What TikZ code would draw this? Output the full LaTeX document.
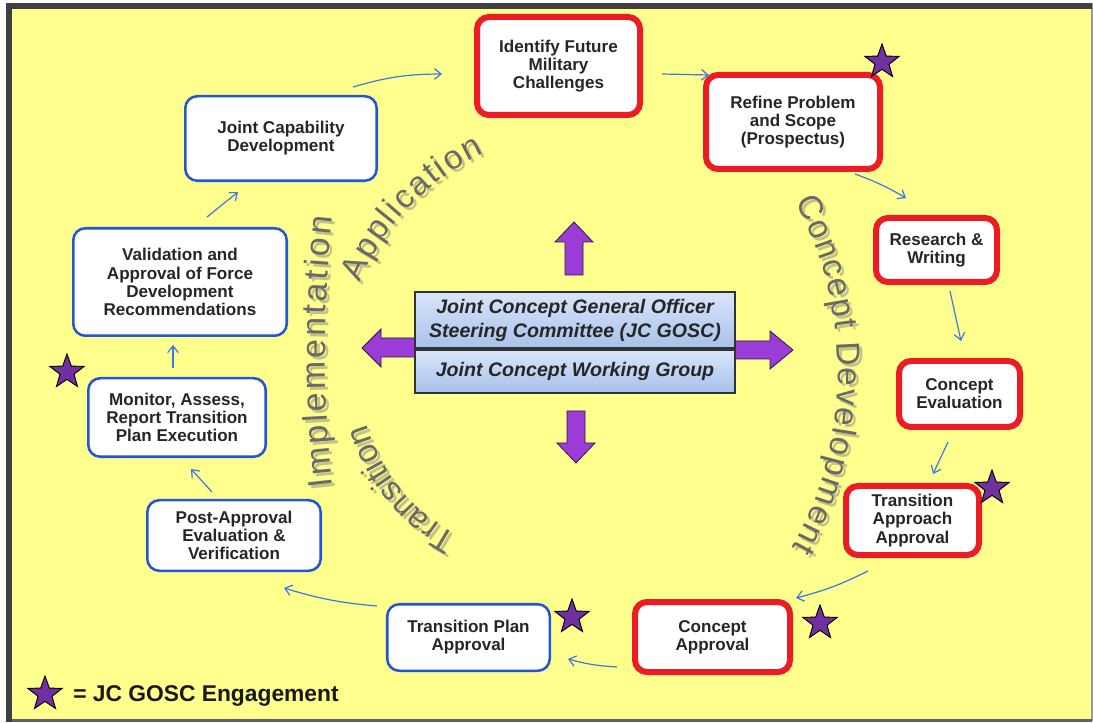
\documentclass[tikz,border=0pt]{standalone}
\usepackage{fontspec}
\setmainfont{Liberation Sans}
\usetikzlibrary{arrows.meta,shapes.geometric,calc,decorations.text}

\definecolor{panel}{RGB}{255,255,142}
\definecolor{framegray}{RGB}{64,64,64}
\definecolor{redline}{RGB}{236,28,36}
\definecolor{blueline}{RGB}{35,85,215}
\definecolor{flowblue}{RGB}{60,120,225}
\definecolor{violet}{RGB}{155,60,215}
\definecolor{arrowedge}{RGB}{45,25,70}
\definecolor{starfill}{RGB}{112,48,160}
\definecolor{boxtop}{RGB}{216,230,250}
\definecolor{boxbot}{RGB}{168,192,234}
\definecolor{arcgray}{RGB}{105,105,105}
\definecolor{arcshadow}{RGB}{196,196,130}

\tikzset{
  stepbox/.style={fill=white, rounded corners=9pt, align=center, inner sep=0pt,
    font=\bfseries\fontsize{12.8}{13.6}\selectfont, text=black!85},
  redbox/.style={stepbox, draw=redline, line width=4.5pt},
  bluebox/.style={stepbox, draw=blueline, line width=1.9pt},
  flow/.style={draw=flowblue, line width=0.9pt, -{Straight Barb[length=5pt,width=8pt]}},
  engstar/.style={star, star points=5, star point ratio=2.45, fill=starfill,
    draw=black, line width=0.7pt, minimum size=27pt, inner sep=0pt},
  blockarrow/.style={fill=violet, draw=arrowedge, line width=0.6pt, line join=miter},
  council/.style={draw=black!80, line width=1.2pt, top color=boxtop, bottom color=boxbot,
    minimum width=240pt, align=center, inner sep=0pt,
    font=\bfseries\itshape\fontsize{14.7}{18}\selectfont, text=black!85},
}

\begin{document}
\begin{tikzpicture}[x=0.75pt,y=0.75pt]
\useasboundingbox (0,0) rectangle (1093,-723);
\fill[white] (0,0) rectangle (1093,-723);

% yellow panel and its frame
\fill[panel] (9,-6) rectangle (1091,-720);
\draw[draw=black!40, line width=1.5pt] (1091.5,-3) -- (1091.5,-721);
\draw[draw=black!62, line width=2.25pt] (6,-720.5) -- (1092,-720.5);
\draw[draw=framegray, line width=4.5pt] (6,-6) -- (1092,-6);
\draw[draw=framegray, line width=4.5pt] (9,-3) -- (9,-722);

% phase labels along the cycle (soft shadow first, then the text)
\foreach \d/\col in {3/arcshadow, 0/arcgray}{
  \path[decorate, decoration={text along path, text align=fit to path, text color=\col,
      text={|\fontsize{25}{25}\selectfont|Concept Development}}]
    (475+\d,-372-\d) ++(28:363) arc[start angle=28, end angle=-29, radius=363];
  \path[decorate, decoration={text along path, text align=fit to path, text color=\col,
      text={|\fontsize{25}{25}\selectfont|Application}}]
    (590+\d,-380-\d) ++(157:250) arc[start angle=157, end angle=115, radius=250];
  \path[decorate, decoration={text along path, text align=fit to path, text color=\col,
      text={|\fontsize{25.5}{25.5}\selectfont|Implementation}}]
    (1525+\d,-352-\d) ++(186.46:1200) arc[start angle=186.46, end angle=173.54, radius=1200];
  \path[decorate, decoration={text along path, text align=fit to path, text color=\col,
      text={|\fontsize{25}{25}\selectfont|Transition}}]
    (542+\d,-374-\d) ++(242.4:182) arc[start angle=242.4, end angle=196, radius=182];
}

% purple arrows leaving the council boxes
\path[blockarrow] (565,-275) -- (565,-242) -- (555,-242) -- (574,-222) -- (593,-242) -- (583,-242) -- (583,-275) -- cycle;
\path[blockarrow] (567,-411) -- (567,-443) -- (557,-443) -- (576,-463) -- (595,-443) -- (585,-443) -- (585,-411) -- cycle;
\path[blockarrow] (418,-338) -- (381,-338) -- (381,-329) -- (362,-348) -- (381,-367) -- (381,-357) -- (418,-357) -- cycle;
\path[blockarrow] (732,-341) -- (770,-341) -- (770,-331) -- (793,-350) -- (770,-369) -- (770,-359) -- (732,-359) -- cycle;

% council boxes
\node[council, minimum height=42pt] (gosc) at (575,-320)
  {Joint Concept General Officer\\Steering Committee (JC GOSC)};
\node[council, minimum height=32.25pt] (jcwg) at (575,-371.5)
  {Joint Concept Working Group};

% concept development steps
\node[redbox, minimum width=122.25pt, minimum height=73.5pt] (ifm) at (558.5,-66)
  {Identify Future\\Military\\Challenges};
\node[redbox, minimum width=130.5pt, minimum height=70.5pt] (rps) at (793,-122)
  {Refine Problem\\and Scope\\(Prospectus)};
\node[redbox, minimum width=90.75pt, minimum height=48pt] (raw) at (936.5,-250)
  {Research \&\\Writing};
\node[redbox, minimum width=90.75pt, minimum height=49.5pt] (cev) at (959.5,-394)
  {Concept\\Evaluation};
\node[redbox, minimum width=99.75pt, minimum height=51.75pt] (taa) at (912.5,-520.5)
  {Transition\\Approach\\Approval};
\node[redbox, minimum width=116.25pt, minimum height=52.5pt] (cap) at (712.5,-637)
  {Concept\\Approval};

% transition, implementation and application steps
\node[bluebox, minimum width=121.9pt, minimum height=49.9pt] (tpa) at (468.5,-637.5)
  {Transition Plan\\Approval};
\node[bluebox, minimum width=130.1pt, minimum height=52.9pt] (pae) at (234,-535.5)
  {Post-Approval\\Evaluation \&\\Verification};
\node[bluebox, minimum width=133.1pt, minimum height=58.9pt] (mar) at (177,-417.5)
  {Monitor, Assess,\\Report Transition\\Plan Execution};
\node[bluebox, minimum width=160.1pt, minimum height=80.6pt] (vaf) at (180,-282)
  {Validation and\\Approval of Force\\Development\\Recommendations};
\node[bluebox, minimum width=143.6pt, minimum height=63.4pt] (jcd) at (281,-138.5)
  {Joint Capability\\Development};

% flow around the cycle
\draw[flow] ($(jcd)+(72,51.5)$) to[bend left=8] ($(ifm)+(-116.5,-8)$);
\draw[flow] ($(ifm)+(103.5,-8)$) to ($(rps)+(-84,47)$);
\draw[flow] ($(rps)+(62,-52)$) to[bend left=5] ($(raw)+(-30.5,52)$);
\draw[flow] ($(raw)+(13.5,-41)$) to ($(cev)+(1.5,53)$);
\draw[flow] ($(cev)+(-11.5,-48)$) to ($(taa)+(20.5,46.5)$);
\draw[flow] ($(taa)+(-44.5,-50.5)$) to[bend left=6] ($(cap)+(83.5,39)$);
\draw[flow] ($(cap)+(-95.5,-30)$) to[bend left=6] ($(tpa)+(99.5,-21.5)$);
\draw[flow] ($(tpa)+(-91.5,31.5)$) to[bend left=6] ($(pae)+(50,-52.5)$);
\draw[flow] ($(pae)+(-22,43.5)$) to ($(mar)+(14,-51.5)$);
\draw[flow] ($(mar)+(-4,49.5)$) to ($(vaf)+(-7,-63)$);
\draw[flow] ($(vaf)+(27,65)$) to ($(jcd)+(-43,-53.5)$);

% JC GOSC engagement marks
\node[engstar] (s1) at (882,-62) {};
\node[engstar] (s2) at (992,-488) {};
\node[engstar] (s3) at (820,-623) {};
\node[engstar] (s4) at (572,-617) {};
\node[engstar] (s5) at (67,-372) {};

% legend
\node[engstar] (key) at (45,-694) {};
\node[anchor=west, inner sep=0pt, font=\bfseries\fontsize{17.1}{20}\selectfont, text=black!90]
  (keytext) at (73,-696) {= JC GOSC Engagement};
\end{tikzpicture}
\end{document}
